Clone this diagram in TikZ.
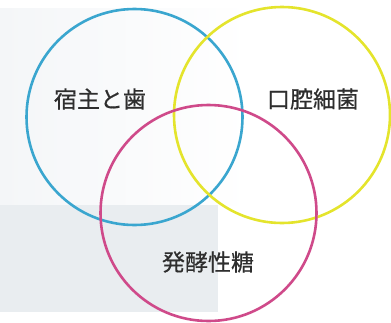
\documentclass[tikz,border=0pt]{standalone}
\usepackage{fontspec}
\newfontfamily\jpfont[FakeBold=0.6]{Noto Sans CJK JP}
\usepackage{tikz}
\usetikzlibrary{shapes,positioning}
\definecolor{vcyan}{HTML}{3AA6CF}
\definecolor{vyellow}{HTML}{E4E42C}
\definecolor{vmagenta}{HTML}{CF4A8A}
\definecolor{vtext}{HTML}{2E2E2E}
\definecolor{paper}{HTML}{E9EDF0}
\definecolor{paperlight}{HTML}{F4F6F8}
\tikzstyle{setring} = [draw, circle, line width=2.6pt, minimum size=216pt, inner sep=0pt]
\tikzstyle{setlabel} = [font=\jpfont\fontsize{23}{26}\selectfont, text=vtext, inner sep=0pt]

\begin{document}
\begin{tikzpicture}[x=1pt, y=-1pt]
	\useasboundingbox (0,0) rectangle (391,322);
	%% scanned paper background
	\shade [left color=paperlight, right color=white] (0,8) rectangle (250,205);
	\fill [paper] (0,205) rectangle (218,312);
	%% the three sets
	\node [setring, vcyan] (Host) at (134.5,117) {};
	\node [setring, vyellow] (Bact) at (282,115) {};
	\node [setring, vmagenta] (Sugar) at (208.5,213) {};
	%% labels
	\node [setlabel] (HostText) at (100,99) {宿主と歯};
	\node [setlabel] (BactText) at (313,99) {口腔細菌};
	\node [setlabel] (SugarText) at (208,262) {発酵性糖};
\end{tikzpicture}
\end{document}
